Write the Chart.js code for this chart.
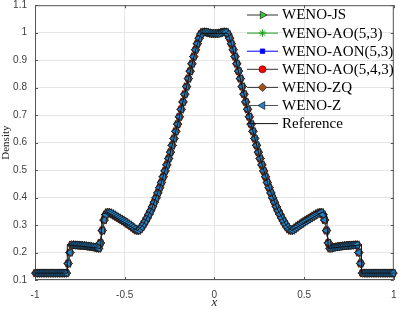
<!DOCTYPE html>
<html>
<head>
<meta charset="utf-8">
<script src="https://cdn.jsdelivr.net/npm/chart.js@4"></script>
<style>
  html, body { margin: 0; padding: 0; background: #fff; }
  #chart { display: block; }
</style>
</head>
<body>
<canvas id="chart" width="399" height="310"></canvas>
<script>
// cell centres of the 200-cell mesh
const xGrid = [
  -0.995, -0.985, -0.975, -0.965, -0.955, -0.945, -0.935, -0.925, -0.915, -0.905,
  -0.895, -0.885, -0.875, -0.865, -0.855, -0.845, -0.835, -0.825, -0.815, -0.805,
  -0.795, -0.785, -0.775, -0.765, -0.755, -0.745, -0.735, -0.725, -0.715, -0.705,
  -0.695, -0.685, -0.675, -0.665, -0.655, -0.645, -0.635, -0.625, -0.615, -0.605,
  -0.595, -0.585, -0.575, -0.565, -0.555, -0.545, -0.535, -0.525, -0.515, -0.505,
  -0.495, -0.485, -0.475, -0.465, -0.455, -0.445, -0.435, -0.425, -0.415, -0.405,
  -0.395, -0.385, -0.375, -0.365, -0.355, -0.345, -0.335, -0.325, -0.315, -0.305,
  -0.295, -0.285, -0.275, -0.265, -0.255, -0.245, -0.235, -0.225, -0.215, -0.205,
  -0.195, -0.185, -0.175, -0.165, -0.155, -0.145, -0.135, -0.125, -0.115, -0.105,
  -0.095, -0.085, -0.075, -0.065, -0.055, -0.045, -0.035, -0.025, -0.015, -0.005,
  0.005, 0.015, 0.025, 0.035, 0.045, 0.055, 0.065, 0.075, 0.085, 0.095,
  0.105, 0.115, 0.125, 0.135, 0.145, 0.155, 0.165, 0.175, 0.185, 0.195,
  0.205, 0.215, 0.225, 0.235, 0.245, 0.255, 0.265, 0.275, 0.285, 0.295,
  0.305, 0.315, 0.325, 0.335, 0.345, 0.355, 0.365, 0.375, 0.385, 0.395,
  0.405, 0.415, 0.425, 0.435, 0.445, 0.455, 0.465, 0.475, 0.485, 0.495,
  0.505, 0.515, 0.525, 0.535, 0.545, 0.555, 0.565, 0.575, 0.585, 0.595,
  0.605, 0.615, 0.625, 0.635, 0.645, 0.655, 0.665, 0.675, 0.685, 0.695,
  0.705, 0.715, 0.725, 0.735, 0.745, 0.755, 0.765, 0.775, 0.785, 0.795,
  0.805, 0.815, 0.825, 0.835, 0.845, 0.855, 0.865, 0.875, 0.885, 0.895,
  0.905, 0.915, 0.925, 0.935, 0.945, 0.955, 0.965, 0.975, 0.985, 0.995
];

// density of the WENO schemes (they lie on top of each other)
const schemeDensity = [
  0.125, 0.125, 0.125, 0.125, 0.125, 0.125, 0.125, 0.125, 0.125, 0.125,
  0.125, 0.125, 0.125, 0.125, 0.125, 0.125, 0.125, 0.125, 0.16, 0.2,
  0.228, 0.228, 0.227, 0.227, 0.226, 0.226, 0.225, 0.225, 0.224, 0.223,
  0.222, 0.221, 0.220, 0.219, 0.217, 0.215, 0.235, 0.28, 0.318, 0.338,
  0.346, 0.345, 0.342, 0.338, 0.334, 0.330, 0.326, 0.322, 0.318, 0.314,
  0.310, 0.305, 0.301, 0.296, 0.291, 0.286, 0.281, 0.280, 0.285, 0.293,
  0.303, 0.314, 0.326, 0.339, 0.352, 0.367, 0.383, 0.399, 0.417, 0.436,
  0.455, 0.476, 0.497, 0.519, 0.542, 0.565, 0.590, 0.615, 0.641, 0.667,
  0.694, 0.721, 0.748, 0.776, 0.804, 0.833, 0.860, 0.887, 0.913, 0.938,
  0.960, 0.980, 0.995, 1.002, 1.003, 1.002, 1.000, 0.998, 0.997, 0.997,
  0.997, 0.997, 0.998, 1.000, 1.002, 1.003, 1.002, 0.995, 0.980, 0.960,
  0.938, 0.913, 0.887, 0.860, 0.833, 0.804, 0.776, 0.748, 0.721, 0.694,
  0.667, 0.641, 0.615, 0.590, 0.565, 0.542, 0.519, 0.497, 0.476, 0.455,
  0.436, 0.417, 0.399, 0.383, 0.367, 0.352, 0.339, 0.326, 0.314, 0.303,
  0.293, 0.285, 0.280, 0.281, 0.286, 0.291, 0.296, 0.301, 0.305, 0.310,
  0.314, 0.318, 0.322, 0.326, 0.330, 0.334, 0.338, 0.342, 0.345, 0.346,
  0.338, 0.318, 0.28, 0.235, 0.215, 0.217, 0.219, 0.220, 0.221, 0.222,
  0.223, 0.224, 0.225, 0.225, 0.226, 0.226, 0.227, 0.227, 0.228, 0.228,
  0.2, 0.16, 0.125, 0.125, 0.125, 0.125, 0.125, 0.125, 0.125, 0.125,
  0.125, 0.125, 0.125, 0.125, 0.125, 0.125, 0.125, 0.125, 0.125, 0.125
];

// reference solution (sharp)
const refX = [-1, -0.82, -0.82, -0.635, -0.625, -0.6, -0.43, -0.4, -0.35, -0.3, -0.25, -0.2, -0.15, -0.1, -0.075, 0,
              0.075, 0.1, 0.15, 0.2, 0.25, 0.3, 0.35, 0.4, 0.43, 0.6, 0.625, 0.635, 0.82, 0.82, 1];
const refY = [0.125, 0.125, 0.228, 0.215, 0.34, 0.347, 0.28, 0.298, 0.359, 0.445, 0.554, 0.68, 0.818, 0.949, 0.998, 0.997,
              0.998, 0.949, 0.818, 0.68, 0.554, 0.445, 0.359, 0.298, 0.28, 0.347, 0.34, 0.215, 0.228, 0.125, 0.125];

const schemeNames = ['WENO-JS', 'WENO-AO(5,3)', 'WENO-AON(5,3)', 'WENO-AO(5,4,3)', 'WENO-ZQ', 'WENO-Z'];
const xTicks = [-1, -0.5, 0, 0.5, 1];
const yTicks = [0.1, 0.2, 0.3, 0.4, 0.5, 0.6, 0.7, 0.8, 0.9, 1, 1.1];

const schemeStyles = [
    { line: '#333333', fill: '#3cc43c', edge: '#1a1a1a', style: 'triangle', rot: 90, r: 4.4 },
    { line: '#1aa01a', fill: '#1aa01a', edge: '#1aa01a', style: 'star', rot: 0, r: 3.8 },
    { line: '#0000ff', fill: '#0000ff', edge: '#0000ff', style: 'rect', rot: 0, r: 3.2 },
    { line: '#333333', fill: '#ff0000', edge: '#5a0000', style: 'circle', rot: 0, r: 3.5 },
    { line: '#333333', fill: '#a0501e', edge: '#1a1a1a', style: 'rectRot', rot: 0, r: 4.2 },
    { line: '#555555', fill: '#2482c8', edge: '#111111', style: 'triangle', rot: -90, r: 4.5 }
];

const schemePoints = xGrid.map((x, i) => ({ x: x, y: schemeDensity[i] }));
const refPoints = refX.map((x, i) => ({ x: x, y: refY[i] }));

const datasets = schemeNames.map((name, i) => {
    const s = schemeStyles[i];
    return {
        label: name,
        data: schemePoints,
        borderColor: s.line,
        borderWidth: 0.8,
        pointStyle: s.style,
        pointRotation: s.rot,
        pointRadius: s.r,
        pointBackgroundColor: s.fill,
        pointBorderColor: s.edge,
        pointBorderWidth: s.style === 'star' ? 1 : 0.7,
        order: schemeNames.length - i,
        clip: false
    };
});
datasets.push({
    label: 'Reference',
    data: refPoints,
    borderColor: '#111111',
    borderWidth: 1,
    pointRadius: 0,
    order: 0,
    clip: false
});

const frameColor = '#555555';
const serif = '"Liberation Serif", "Times New Roman", serif';

const framePlugin = {
    id: 'frame',
    beforeDatasetsDraw(chart) {
        const { ctx, chartArea: a, scales } = chart;
        ctx.save();
        ctx.strokeStyle = frameColor;
        ctx.lineWidth = 1;
        ctx.strokeRect(a.left + 0.5, a.top + 0.5, a.right - a.left - 1, a.bottom - a.top - 1);
        ctx.beginPath();
        xTicks.forEach(v => {
            const px = Math.round(scales.x.getPixelForValue(v)) + 0.5;
            ctx.moveTo(px, a.bottom); ctx.lineTo(px, a.bottom - 3);
            ctx.moveTo(px, a.top); ctx.lineTo(px, a.top + 3);
        });
        yTicks.forEach(v => {
            const py = Math.round(scales.y.getPixelForValue(v)) + 0.5;
            ctx.moveTo(a.left, py); ctx.lineTo(a.left + 3, py);
            ctx.moveTo(a.right, py); ctx.lineTo(a.right - 3, py);
        });
        ctx.stroke();
        ctx.restore();
    },
    afterDatasetsDraw(chart) {
        const { ctx, chartArea: a } = chart;
        ctx.save();
        // axis titles
        ctx.fillStyle = '#262626';
        ctx.font = '11px ' + serif;
        ctx.textAlign = 'center';
        ctx.textBaseline = 'middle';
        ctx.save();
        ctx.translate(6, (a.top + a.bottom) / 2);
        ctx.rotate(-Math.PI / 2);
        ctx.fillText('Density', 0, 0);
        ctx.restore();
        ctx.font = 'italic 13px ' + serif;
        ctx.fillText('x', (a.left + a.right) / 2, 303);

        // legend inside the axes, no box
        const items = chart.data.datasets;
        items.forEach((ds, i) => {
            const y = 15 + i * 18.1;
            ctx.strokeStyle = ds.borderColor;
            ctx.lineWidth = 1;
            ctx.beginPath();
            ctx.moveTo(247, y);
            ctx.lineTo(278, y);
            ctx.stroke();
            if (ds.pointRadius > 0) {
                ctx.fillStyle = ds.pointBackgroundColor;
                ctx.strokeStyle = ds.pointBorderColor;
                ctx.lineWidth = ds.pointBorderWidth;
                Chart.helpers.drawPoint(ctx, {
                    pointStyle: ds.pointStyle,
                    rotation: ds.pointRotation,
                    radius: ds.pointRadius,
                    borderWidth: ds.pointBorderWidth
                }, 262.5, y);
            }
            ctx.fillStyle = '#000000';
            ctx.font = '15px ' + serif;
            ctx.textAlign = 'left';
            ctx.textBaseline = 'middle';
            ctx.fillText(ds.label, 282, y + 0.5);
        });
        ctx.restore();
    }
};

new Chart(document.getElementById('chart'), {
    type: 'line',
    data: { datasets: datasets },
    options: {
        responsive: false,
        animation: false,
        layout: { padding: { top: 4, right: 5, left: 0, bottom: 0 } },
        plugins: {
            legend: { display: false },
            tooltip: { enabled: false }
        },
        elements: { line: { tension: 0 } },
        scales: {
            x: {
                type: 'linear',
                min: -1,
                max: 1,
                afterFit(scale) {
                    scale.height = 30;
                    scale.paddingLeft = 0;
                    scale.paddingRight = 0;
                },
                afterBuildTicks(scale) { scale.ticks = xTicks.map(v => ({ value: v })); },
                grid: { color: '#e6e6e6', drawTicks: false },
                border: { display: false },
                ticks: {
                    padding: 9,
                    color: '#404040',
                    font: { family: '"Liberation Sans", Arial, sans-serif', size: 10 },
                    callback: v => String(v)
                }
            },
            y: {
                type: 'linear',
                min: 0.1,
                max: 1.1,
                afterFit(scale) {
                    scale.width = 35;
                    scale.paddingTop = 0;
                    scale.paddingBottom = 0;
                },
                afterBuildTicks(scale) { scale.ticks = yTicks.map(v => ({ value: v })); },
                grid: { color: '#e6e6e6', drawTicks: false },
                border: { display: false },
                ticks: {
                    padding: 8,
                    color: '#404040',
                    font: { family: '"Liberation Sans", Arial, sans-serif', size: 10 },
                    callback: v => String(v)
                }
            }
        }
    },
    plugins: [framePlugin]
});
</script>
</body>
</html>
